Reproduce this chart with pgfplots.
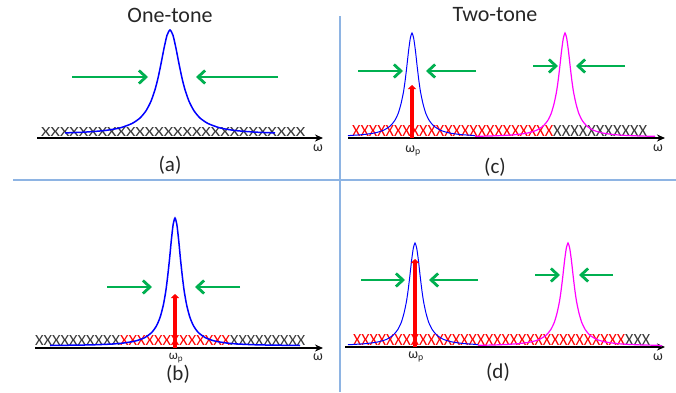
\documentclass[border=0pt]{standalone}
\usepackage{fontspec}
\setmainfont{Carlito}
\usepackage{pgfplots}
\pgfplotsset{compat=1.18}
\usetikzlibrary{arrows.meta}
\definecolor{sep}{HTML}{8EB4E3}
\definecolor{grn}{HTML}{00B050}
\definecolor{xgray}{HTML}{3A3A3A}
\definecolor{mag}{HTML}{FF00FF}
\definecolor{blu}{HTML}{0000FF}
\definecolor{rd}{HTML}{FF0000}
\begin{document}
\begin{tikzpicture}
\begin{axis}[scale only axis, width=676pt, height=392pt,
  xmin=0, xmax=676, ymin=0, ymax=392, hide axis, clip=false]
% separators
\addplot[sep, line width=2pt] coordinates {(340,0) (340,376)};
\addplot[sep, line width=2pt] coordinates {(13,212) (676,212)};
% X rows
\node[anchor=south west, inner sep=0, text=xgray] at (axis cs:41,255.7) {\resizebox{264pt}{9pt}{XXXXXXXXXXXXXXXXXXXXXXXXXXXX}};
\node[anchor=south west, inner sep=0, text=xgray] at (axis cs:35,46) {\resizebox{85pt}{10pt}{XXXXXXXXXX}};
\node[anchor=south west, inner sep=0, text=rd] at (axis cs:120,46) {\resizebox{110pt}{10pt}{XXXXXXXXXXXXX}};
\node[anchor=south west, inner sep=0, text=xgray] at (axis cs:230,46) {\resizebox{75pt}{10pt}{XXXXXXXXX}};
\node[anchor=south west, inner sep=0, text=rd] at (axis cs:352,255.3) {\resizebox{201pt}{11pt}{XXXXXXXXXXXXXXXXXXXXXXXX}};
\node[anchor=south west, inner sep=0, text=xgray] at (axis cs:553,255.3) {\resizebox{94pt}{11pt}{XXXXXXXXXXX}};
\node[anchor=south west, inner sep=0, text=rd] at (axis cs:353,46.7) {\resizebox{272pt}{11pt}{XXXXXXXXXXXXXXXXXXXXXXXXXXXXXXXXX}};
\node[anchor=south west, inner sep=0, text=xgray] at (axis cs:625,46.7) {\resizebox{25pt}{11pt}{XXX}};
% omega axes
\addplot[black, line width=1.5pt, -{Stealth[length=8pt,width=7pt]}] coordinates {(37,254) (323,254)};
\addplot[black, line width=1.5pt, -{Stealth[length=8pt,width=7pt]}] coordinates {(348,254) (665,254)};
\addplot[black, line width=1.5pt, -{Stealth[length=8pt,width=7pt]}] coordinates {(35,44) (323,44)};
\addplot[black, line width=1.5pt, -{Stealth[length=8pt,width=7pt]}] coordinates {(345,45) (665,45)};
% curves
\addplot[blu, line width=1.5pt, smooth, tension=0.4] coordinates {(65,259.1) (85,259.9) (105,261.5) (120,264.1) (132,268.5) (140,274.0) (146,281.2) (151,290.8) (155,302.3) (158,313.9) (161,328.2) (164,343.6) (167,356.7) (170,362.0) (173,356.7) (176,343.6) (179,328.2) (182,313.9) (185,302.3) (189,290.8) (194,281.2) (200,274.0) (208,268.5) (220,264.1) (235,261.5) (255,259.9) (275,259.1)};
\addplot[blu, line width=1.5pt, smooth, tension=0.4] coordinates {(50,46.5) (90,47.1) (110.4,47.9) (122.7,48.9) (135,50.9) (144.2,54.1) (151.6,59.4) (156.5,66.2) (160.2,75.0) (163.3,86.8) (165.8,100.9) (167.6,115.1) (169.5,132.6) (171.3,151.5) (173.15,167.5) (175,174) (176.85,167.5) (178.7,151.5) (180.5,132.6) (182.4,115.1) (184.2,100.9) (186.7,86.8) (189.8,75.0) (193.5,66.2) (198.4,59.4) (205.8,54.1) (215,50.9) (227.3,48.9) (239.6,47.9) (260,47.1) (300,46.5)};
\addplot[blu, line width=1pt, smooth, tension=0.4] coordinates {(348,256.3) (351.4,256.6) (363,257.4) (374.5,259.0) (383.2,261.6) (390.1,265.9) (394.7,271.4) (398.2,278.6) (401,288.2) (403.4,299.6) (405.1,311.1) (406.8,325.3) (408.5,340.7) (410.3,353.7) (412,359) (413.7,353.7) (415.5,340.7) (417.2,325.3) (418.9,311.1) (420.6,299.6) (423,288.2) (425.8,278.6) (429.3,271.4) (433.9,265.9) (440.8,261.6) (449.5,259.0) (461,257.4) (472.6,256.6) (475,256.3)};
\addplot[mag, line width=1.2pt, smooth, tension=0.4] coordinates {(475,255.7) (490,256.0) (504.4,256.6) (516,257.4) (527.5,259.0) (536.2,261.6) (543.1,265.9) (547.7,271.4) (551.2,278.6) (554,288.2) (556.4,299.6) (558.1,311.1) (559.8,325.3) (561.5,340.7) (563.3,353.7) (565,359) (566.7,353.7) (568.5,340.7) (570.2,325.3) (571.9,311.1) (573.6,299.6) (576,288.2) (578.8,278.6) (582.3,271.4) (586.9,265.9) (593.8,261.6) (602.5,259.0) (614,257.4) (625.6,256.6) (640,256.0) (655,255.7)};
\addplot[blu, line width=1pt, smooth, tension=0.4] coordinates {(348,47.3) (354.4,47.6) (366,48.4) (377.5,50.0) (386.2,52.5) (393.1,56.8) (397.7,62.3) (401.2,69.4) (404,78.8) (406.4,90.2) (408.1,101.6) (409.8,115.6) (411.5,130.9) (413.3,143.8) (415,149) (416.7,143.8) (418.5,130.9) (420.2,115.6) (421.9,101.6) (423.6,90.2) (426,78.8) (428.8,69.4) (432.3,62.3) (436.9,56.8) (443.8,52.5) (452.5,50.0) (464,48.4) (475.6,47.6) (478,47.3)};
\addplot[mag, line width=1.2pt, smooth, tension=0.4] coordinates {(478,46.7) (493,47.0) (507.4,47.6) (519,48.4) (530.5,50.0) (539.2,52.5) (546.1,56.8) (550.7,62.3) (554.2,69.4) (557,78.8) (559.4,90.2) (561.1,101.6) (562.8,115.6) (564.5,130.9) (566.3,143.8) (568,149) (569.7,143.8) (571.5,130.9) (573.2,115.6) (574.9,101.6) (576.6,90.2) (579,78.8) (581.8,69.4) (585.3,62.3) (589.9,56.8) (596.8,52.5) (605.5,50.0) (617,48.4) (628.6,47.6) (643,47.0) (658,46.7) (662,46)};
% red pump arrows
\addplot[rd, line width=4.5pt, -{Triangle[length=4pt,width=8pt]}] coordinates {(175,44) (175,98)};
\addplot[rd, line width=4.5pt, -{Triangle[length=4pt,width=8pt]}] coordinates {(412,254) (412,307)};
\addplot[rd, line width=4.5pt, -{Triangle[length=4pt,width=8pt]}] coordinates {(415,45) (415,133)};
% green arrows
\pgfplotsset{garr/.style={grn, line width=2.8pt, -{Straight Barb[length=7pt,width=13pt]}}}
\addplot[garr] coordinates {(72,315) (148,315)};
\addplot[garr] coordinates {(278,315) (196,315)};
\addplot[garr] coordinates {(107,105) (152,105)};
\addplot[garr] coordinates {(240,105) (195,105)};
\addplot[garr] coordinates {(358,321) (403,321)};
\addplot[garr] coordinates {(476,321) (426,321)};
\addplot[garr] coordinates {(533,326) (558,326)};
\addplot[garr] coordinates {(625,326) (576,326)};
\addplot[garr] coordinates {(361,112) (405,112)};
\addplot[garr] coordinates {(478,112) (429,112)};
\addplot[garr] coordinates {(535,117) (560,117)};
\addplot[garr] coordinates {(613,117) (579,117)};
% labels
\node[inner sep=0, font=\fontsize{22}{24}\selectfont, text=black!85] at (axis cs:170,377) {One-tone};
\node[inner sep=0, font=\fontsize{22}{24}\selectfont, text=black!85] at (axis cs:495,377) {Two-tone};
\node[inner sep=0, font=\fontsize{21}{24}\selectfont, text=black!85] at (axis cs:170,227) {(a)};
\node[inner sep=0, font=\fontsize{21}{24}\selectfont, text=black!85] at (axis cs:495,225) {(c)};
\node[inner sep=0, font=\fontsize{21}{24}\selectfont, text=black!85] at (axis cs:178,18) {(b)};
\node[inner sep=0, font=\fontsize{21}{24}\selectfont, text=black!85] at (axis cs:498,20) {(d)};
\node[inner sep=0, font=\fontsize{14}{16}\selectfont, text=black!85] at (axis cs:318,244) {ω};
\node[inner sep=0, font=\fontsize{14}{16}\selectfont, text=black!85] at (axis cs:658,244) {ω};
\node[inner sep=0, font=\fontsize{14}{16}\selectfont, text=black!85] at (axis cs:318,35) {ω};
\node[inner sep=0, font=\fontsize{14}{16}\selectfont, text=black!85] at (axis cs:658,35) {ω};
\node[inner sep=0, font=\fontsize{14}{16}\selectfont, text=black!85] at (axis cs:413,241) {ω\textsubscript{p}};
\node[inner sep=0, font=\fontsize{13}{15}\selectfont, text=black!85] at (axis cs:176,34) {ω\textsubscript{p}};
\node[inner sep=0, font=\fontsize{14}{16}\selectfont, text=black!85] at (axis cs:416,35) {ω\textsubscript{p}};
\end{axis}
\pgfresetboundingbox
\path (current axis.south west) rectangle (current axis.north east);
\end{tikzpicture}
\end{document}
